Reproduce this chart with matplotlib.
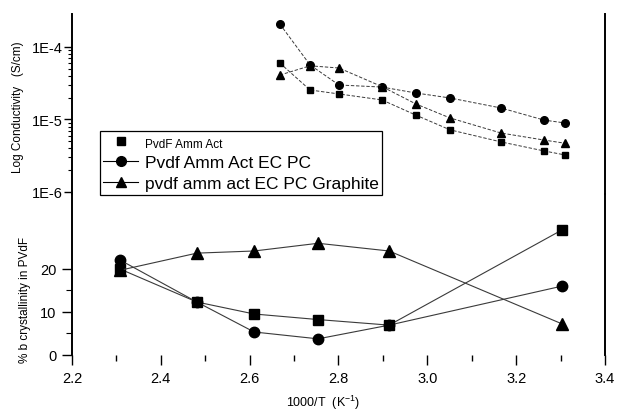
import matplotlib
matplotlib.use("Agg")
import matplotlib.pyplot as plt
from matplotlib.lines import Line2D
from matplotlib.ticker import NullFormatter
import numpy as np

plt.rcParams['font.family'] = ['Liberation Sans', 'DejaVu Sans']
plt.rcParams['mathtext.fontset'] = 'custom'
plt.rcParams['mathtext.rm'] = 'Liberation Sans'

# conductivity vs 1000/T (upper panel)
x_cond = [2.668, 2.736, 2.801, 2.898, 2.974, 3.051, 3.166, 3.263, 3.310]
cond_amm = [6.0e-5, 2.55e-5, 2.25e-5, 1.86e-5, 1.15e-5, 7.2e-6, 4.9e-6, 3.68e-6, 3.24e-6]
cond_ecpc = [2.07e-4, 5.65e-5, 2.99e-5, 2.8e-5, 2.32e-5, 1.98e-5, 1.44e-5, 9.8e-6, 8.95e-6]
cond_graph = [4.1e-5, 5.5e-5, 5.13e-5, 2.84e-5, 1.64e-5, 1.05e-5, 6.5e-6, 5.2e-6, 4.7e-6]

# % b crystallinity (lower panel)
x_cryst = [2.308, 2.481, 2.61, 2.754, 2.914, 3.303]
cryst_amm = [20.0, 12.3, 9.5, 8.2, 6.9, 29.1]
cryst_ecpc = [22.1, 12.3, 5.3, 3.7, 6.9, 16.0]
cryst_graph = [19.7, 23.7, 24.2, 26.0, 24.2, 7.2]

labels = ["PvdF Amm Act", "Pvdf Amm Act EC PC", "pvdf amm act EC PC Graphite"]
x_major = [2.2, 2.4, 2.6, 2.8, 3.0, 3.2, 3.4]
x_minor = [2.3, 2.5, 2.7, 2.9, 3.1, 3.3]

W, H = 618, 414
fig = plt.figure(figsize=(W / 100, H / 100), dpi=100)

def fx(px):
    return px / W

def fy(py):
    return 1 - py / H

L, R = 72, 605
ax1 = fig.add_axes([fx(L), fy(195), fx(R) - fx(L), fy(15) - fy(195)])
ax2 = fig.add_axes([fx(L), fy(355.7), fx(R) - fx(L), fy(195) - fy(355.7)])

line_col = "#3a3a3a"
dash = (0, (3.5, 1.8))
ax1.plot(x_cond, cond_amm, color=line_col, lw=0.7, ls=dash, marker='s', ms=5,
         mfc='k', mec='k')
ax1.plot(x_cond, cond_ecpc, color=line_col, lw=0.7, ls=dash, marker='o', ms=5.5,
         mfc='k', mec='k')
ax1.plot(x_cond, cond_graph, color=line_col, lw=0.7, ls=dash, marker='^', ms=5.5,
         mfc='k', mec='k')
ax1.set_yscale('log')
ax1.set_xlim(2.2, 3.4)
ax1.set_ylim(10 ** -6.028, 10 ** -3.545)
ax1.set_yticks([1e-4, 1e-5, 1e-6], labels=["1E-4", "1E-5", "1E-6"])
minor = [m * 10.0 ** e for e in (-6, -5) for m in range(2, 10)]
ax1.set_yticks(minor, minor=True)
ax1.yaxis.set_minor_formatter(NullFormatter())
ax1.tick_params(axis='y', which='major', length=6, width=1, labelsize=10.5, pad=1)
ax1.tick_params(axis='y', which='minor', length=3, width=0.8)
ax1.tick_params(axis='x', which='both', bottom=False, labelbottom=False)
ax1.spines['top'].set_visible(False)
ax1.spines['bottom'].set_visible(False)
for s in ('left', 'right'):
    ax1.spines[s].set_linewidth(1.4)
ax1.patch.set_alpha(0)

ax2.plot(x_cryst, cryst_amm, color=line_col, lw=0.8, marker='s', ms=7,
         mfc='k', mec='k')
ax2.plot(x_cryst, cryst_ecpc, color=line_col, lw=0.8, marker='o', ms=7.5,
         mfc='k', mec='k')
ax2.plot(x_cryst, cryst_graph, color=line_col, lw=0.8, marker='^', ms=8,
         mfc='k', mec='k')
ax2.set_xlim(2.2, 3.4)
ax2.set_ylim(0, 37.5)
ax2.set_yticks([0, 10, 20])
ax2.set_yticks([5, 15], minor=True)
ax2.set_xticks(x_major, labels=[f"{v:.1f}" for v in x_major])
ax2.set_xticks(x_minor, minor=True)
ax2.tick_params(axis='y', which='major', length=7, width=1, labelsize=10.5, pad=4)
ax2.tick_params(axis='y', which='minor', length=4, width=0.8)
ax2.tick_params(axis='x', which='major', length=7, width=1, labelsize=10.5, pad=5)
ax2.tick_params(axis='x', which='minor', length=4, width=1)
ax2.spines['top'].set_visible(False)
ax2.spines['bottom'].set_visible(False)
for s in ('left', 'right'):
    ax2.spines[s].set_linewidth(1.4)
ax2.patch.set_alpha(0)

fig.text(fx(18), fy(107), "Log Conductivity   (S/cm)", rotation=90,
         ha='center', va='center', fontsize=8.5)
fig.text(fx(25), fy(300), "% b crystallinity in PVdF", rotation=90,
         ha='center', va='center', fontsize=8.5)
fig.text(fx(323), fy(403), r"1000/T  (K$^{-1}$)", ha='center',
         va='center', fontsize=9)

handles = [
    Line2D([], [], color='k', ls='none', marker='s', ms=6),
    Line2D([], [], color='k', lw=0.8, marker='o', ms=7),
    Line2D([], [], color='k', lw=0.8, marker='^', ms=7),
]
leg = ax1.legend(handles, labels, loc='upper left', bbox_to_anchor=(fx(100), fy(132)),
                 bbox_transform=fig.transFigure, borderaxespad=0, fancybox=False,
                 framealpha=1, edgecolor='k', fontsize=12.5, handlelength=2.0,
                 handletextpad=0.4, labelspacing=0.32, borderpad=0.2)
leg.get_frame().set_linewidth(0.9)
leg.get_texts()[0].set_fontsize(8.5)

fig.savefig("out.png", dpi=100)
